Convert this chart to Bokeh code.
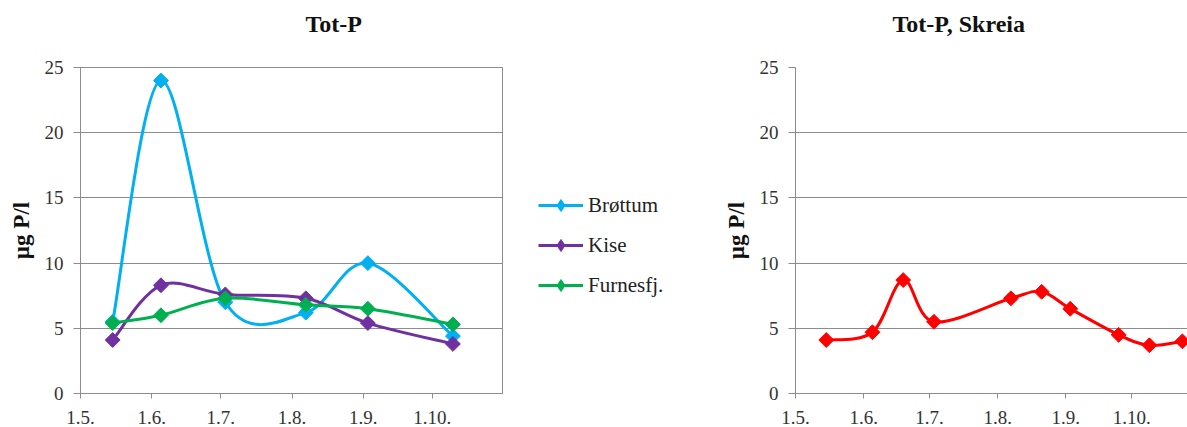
import pandas as pd
from bokeh.plotting import figure
from bokeh.models import ColumnDataSource, Range1d, FixedTicker, Legend, LegendItem
from bokeh.layouts import row
from bokeh.embed import file_html
from bokeh.resources import INLINE

# ---------------- data ----------------
tick_dates = ["2010-05-01", "2010-06-01", "2010-07-01", "2010-08-01",
              "2010-09-01", "2010-10-01", "2010-11-01"]
tick_labels = ["1.5.", "1.6.", "1.7.", "1.8.", "1.9.", "1.10.", ""]

left_dates = ["2010-05-15", "2010-06-05", "2010-07-03", "2010-08-07",
              "2010-09-03", "2010-10-10"]
brottum = [5.5, 24.0, 7.0, 6.2, 10.0, 4.4]
kise = [4.1, 8.3, 7.6, 7.3, 5.4, 3.8]
furnesfj = [5.4, 6.0, 7.3, 6.8, 6.5, 5.3]

skreia_dates = ["2010-05-15", "2010-06-05", "2010-06-19", "2010-07-03",
                "2010-08-07", "2010-08-21", "2010-09-03", "2010-09-25",
                "2010-10-09", "2010-10-24"]
skreia = [4.1, 4.7, 8.7, 5.5, 7.3, 7.8, 6.5, 4.5, 3.7, 4.0]

series_names = ["Brøttum", "Kise", "Furnesfj."]
series_colors = ["#00B0F0", "#7030A0", "#00B050"]

FONT = "Liberation Serif"
GRID = "#8c8c8c"
TXT = "#333333"
H = 427


def ms(d):
    return pd.Timestamp(d).value / 1e6


def smooth_source(dates, vals):
    """Bezier segments (Catmull-Rom control points) through the data points."""
    xs = [ms(d) for d in dates]
    ys = list(vals)
    n = len(xs)
    d = dict(x0=[], y0=[], x1=[], y1=[], cx0=[], cy0=[], cx1=[], cy1=[])
    for i in range(n - 1):
        ip = max(i - 1, 0)
        inn = min(i + 2, n - 1)
        d["x0"].append(xs[i]); d["y0"].append(ys[i])
        d["x1"].append(xs[i + 1]); d["y1"].append(ys[i + 1])
        d["cx0"].append(xs[i] + (xs[i + 1] - xs[ip]) / 6)
        d["cy0"].append(ys[i] + (ys[i + 1] - ys[ip]) / 6)
        d["cx1"].append(xs[i + 1] - (xs[inn] - xs[i]) / 6)
        d["cy1"].append(ys[i + 1] - (ys[inn] - ys[i]) / 6)
    return ColumnDataSource(d)


def make_fig(width, x_end, mbl, mbr, title, title_offset, ntick):
    p = figure(width=width, height=H, x_axis_type="datetime",
               x_range=Range1d(ms("2010-05-01"), ms(x_end)),
               y_range=Range1d(0, 25),
               min_border_left=mbl, min_border_right=mbr,
               min_border_top=67, min_border_bottom=34,
               output_backend="svg", toolbar_location=None, title=title + "\n")
    p.title.text_font = FONT
    p.title.text_font_style = "bold"
    p.title.text_font_size = "24px"
    p.title.align = "left"
    p.title.vertical_align = "top"
    p.title.offset = title_offset
    p.title.standoff = 6
    p.title.text_color = "#111111"

    p.xgrid.grid_line_color = None
    p.ygrid.grid_line_color = GRID
    p.ygrid.ticker = FixedTicker(ticks=[0, 5, 10, 15, 20, 25])

    xt = [ms(d) for d in tick_dates[:ntick]]
    p.xaxis.ticker = FixedTicker(ticks=xt)
    p.xaxis.major_label_overrides = {t: l for t, l in zip(xt, tick_labels[:ntick])}
    p.yaxis.ticker = FixedTicker(ticks=[0, 5, 10, 15, 20, 25])
    for ax in (p.xaxis[0], p.yaxis[0]):
        ax.axis_line_color = GRID
        ax.major_tick_line_color = GRID
        ax.minor_tick_line_color = None
        ax.major_tick_in = 0
        ax.major_label_text_font = FONT
        ax.major_label_text_font_size = "19px"
        ax.major_label_text_color = TXT
    p.xaxis.major_tick_out = 5
    p.xaxis.major_label_standoff = 12
    p.yaxis.major_tick_out = 7
    p.yaxis.major_label_standoff = 10
    p.yaxis.axis_label = "µg P/l"
    p.yaxis.axis_label_text_font = FONT
    p.yaxis.axis_label_text_font_style = "bold"
    p.yaxis.axis_label_text_font_size = "23px"
    p.yaxis.axis_label_text_color = "#111111"
    p.yaxis.axis_label_standoff = 8
    p.background_fill_color = "white"
    p.border_fill_color = "white"
    return p


# ---------------- left chart ----------------
left = make_fig(503, "2010-11-01", 80, 0, "Tot-P", 225, 7)
left.outline_line_color = GRID

for name, vals, col in zip(series_names, [brottum, kise, furnesfj], series_colors):
    src = smooth_source(left_dates, vals)
    left.bezier(x0="x0", y0="y0", x1="x1", y1="y1", cx0="cx0", cy0="cy0",
                cx1="cx1", cy1="cy1", source=src, line_color=col, line_width=3)
    left.scatter(x=[ms(d) for d in left_dates], y=vals, marker="square",
                 angle=0.785398, size=10.5, fill_color=col, line_color=col)

# ---------------- legend panel ----------------
leg = figure(width=217, height=H, x_range=Range1d(0, 1), y_range=Range1d(0, 1),
             min_border=0, x_axis_location=None, y_axis_location=None,
             output_backend="svg", toolbar_location=None)
leg.grid.visible = False
leg.outline_line_color = None
leg.background_fill_color = "white"
leg.border_fill_color = "white"
items = []
for name, col in zip(series_names, series_colors):
    ln = leg.line(x=[-5, -4], y=[-5, -4], line_color=col, line_width=3)
    sc = leg.scatter(x=[-5], y=[-5], marker="diamond", size=12,
                     fill_color=col, line_color=col)
    items.append(LegendItem(label=name, renderers=[ln, sc]))
legend = Legend(items=items, location=(35, 93))
legend.glyph_width = 45
legend.glyph_height = 30
legend.label_height = 20
legend.spacing = 10
legend.padding = 0
legend.margin = 0
legend.label_standoff = 5
legend.border_line_color = None
legend.background_fill_alpha = 0
legend.label_text_font = FONT
legend.label_text_font_size = "21px"
legend.label_text_color = "#222222"
leg.add_layout(legend)

# ---------------- right chart ----------------
right = make_fig(467, "2010-10-26 08:00", 71, 0, "Tot-P, Skreia", 97, 6)
right.outline_line_color = None
src = smooth_source(skreia_dates, skreia)
right.bezier(x0="x0", y0="y0", x1="x1", y1="y1", cx0="cx0", cy0="cy0",
             cx1="cx1", cy1="cy1", source=src, line_color="#FF0000", line_width=3)
right.scatter(x=[ms(d) for d in skreia_dates], y=skreia, marker="square",
              angle=0.785398, size=10.5, fill_color="#FF0000", line_color="#FF0000")

layout = row(left, leg, right)
open("out.html", "w").write(file_html(layout, INLINE))
